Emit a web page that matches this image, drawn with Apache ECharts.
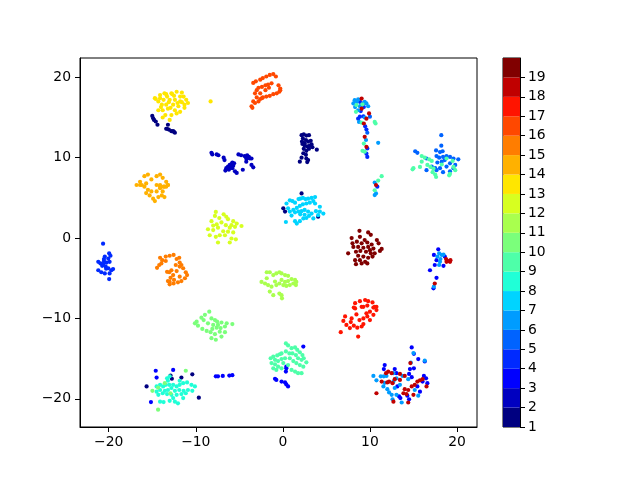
<!DOCTYPE html>
<html>
<head>
<meta charset="utf-8">
<script src="https://cdn.jsdelivr.net/npm/echarts@6/dist/echarts.min.js"></script>
<style>html,body{margin:0;padding:0;background:#fff}#c{width:640px;height:480px}</style>
</head>
<body>
<div id="c"></div>
<script>
// colour bands 1..19 (jet, 19 levels)
const bandColors = ['#000080','#0000C0','#0000FF','#002AFF','#0063FF','#009CFF','#00D4FF','#20FFD7','#4EFFA9','#7BFF7B','#A9FF4E','#D7FF20','#FFE600','#FFB100','#FF7D00','#FF4800','#FF1400','#C00000','#800000'];
const colorbarTicks = [1,2,3,4,5,6,7,8,9,10,11,12,13,14,15,16,17,18,19];
const xTicks = [-20,-10,0,10,20];
const yTicks = [-20,-10,0,10,20];

const pts1 = [[-15.0,15.2],[-14.9,14.9],[-14.8,14.7],[-14.6,14.5],[-14.4,14.1],[-13.2,14.1],[-13.4,13.6],[-13.1,13.5],[-12.8,13.3],[-12.5,13.2],[-12.4,13.1],[-13.3,13.6],[-12.6,13.3],
[2.15,12.8],[2.4,12.9],[2.7,12.75],[3.0,12.8],[2.3,12.4],[2.65,12.2],[2.9,12.0],[3.2,12.1],[2.25,11.7],[2.5,11.5],[2.8,11.4],[3.1,11.5],[3.4,11.3],[3.9,11.0],[2.4,11.1],[2.7,10.85],[3.0,11.1],[2.35,10.55],[2.65,10.35],[2.15,10.0],[1.95,9.5],[2.7,9.9],[2.8,9.45],[2.9,9.7],[2.5,11.8],[3.3,11.65],[2.2,12.0],
[2.15,5.55],[0.05,3.7],[0.25,3.3],[4.05,2.65],
[-15.65,-18.45],[-12.9,-17.1],[-12.75,-17.5],[-11.65,-17.35],[-10.4,-16.95],[-9.65,-19.85]];
const pts2 = [[-8.2,10.6],[-8.1,10.4],[-7.6,10.4],[-7.4,10.3],[-6.8,10.0],[-6.7,9.7],[-6.5,8.7],[-6.6,8.4],[-6.3,8.9],[-6.1,9.1],[-5.9,9.2],[-5.7,9.0],[-5.8,8.7],[-5.5,8.3],[-5.3,8.1],[-5.1,10.4],[-4.8,10.3],[-4.4,10.2],[-4.2,9.9],[-4.0,10.0],[-3.8,9.9],[-3.6,9.9],[-4.2,9.5],[-3.6,9.1],[-3.4,8.8],[-4.6,8.5],[-5.9,8.9],[-6.1,8.7],[-6.2,8.5],[-5.6,9.3],[-6.0,9.0],[-5.8,9.4],[-3.9,10.1],[-4.1,10.3]];
const pts3 = [[17.85,-1.4],[17.35,-2.1],[18.6,-2.3],[17.65,-2.75],[17.45,-3.35],[18.45,-3.45],[16.9,-4.0],[17.65,-4.95],[17.3,-6.25],
[-14.6,-16.5],[-14.5,-17.35],[-12.6,-16.4],[-15.15,-20.4],
[-7.7,-17.2],[-7.45,-17.2],[-6.9,-17.15],[-6.15,-17.1],[-5.8,-17.05],
[2.35,-13.5],[0.4,-16.0],[0.4,-16.2],[0.35,-16.6],[-0.9,-17.5],[-0.75,-17.65],[-0.15,-17.85],[0.25,-17.95],[0.4,-18.2],[0.6,-18.45],
[14.8,-13.6],[15.05,-14.4],[15.55,-15.05],[16.3,-15.35],[14.6,-16.3],[15.05,-16.2],[14.5,-16.9],[14.8,-17.3],[16.2,-17.15],[16.45,-17.45],[16.05,-17.85],[16.6,-18.05],[15.45,-18.45],[15.75,-19.1],[14.3,-19.6],[14.5,-20.05],[13.35,-19.7],[13.5,-19.9],[11.7,-15.8],[11.6,-16.3],[13.05,-16.8],[13.15,-18.45],[12.85,-16.3]];
const pts4 = [[-20.65,-0.7],[-19.95,-1.9],[-19.8,-2.2],[-20.45,-2.3],[-20.05,-2.55],[-20.55,-2.85],[-21.2,-2.95],[-20.95,-3.15],[-20.25,-3.05],[-19.9,-2.95],[-20.75,-3.45],[-20.35,-3.55],[-20.05,-3.75],[-19.7,-4.0],[-19.5,-3.85],[-21.2,-4.0],[-20.85,-4.25],[-20.45,-4.4],[-19.9,-4.4],[-19.95,-5.1],[-20.55,-2.6],[-20.6,-3.2],[-20.3,-3.8],
[8.85,16.95],[9.25,16.75],[9.3,16.3],[8.95,15.8],[8.85,15.1],[9.25,15.15],[8.65,14.85],[9.45,13.9],[9.6,13.5],[9.7,11.15],[9.6,10.5],[9.7,10.1],[10.85,6.4]];
const pts5 = [[18.2,12.8],[18.2,11.5],[17.6,10.9],[18.05,10.7],[18.35,10.8],[15.2,10.8],[15.45,10.6],[16.5,9.9],[17.65,10.2],[17.95,10.0],[18.4,10.1],[18.8,10.2],[19.2,10.1],[19.6,9.9],[20.15,9.8],[18.6,9.7],[18.25,9.5],[17.75,9.4],[19.2,9.3],[19.8,9.1],[18.8,8.9],[18.05,8.7],[17.5,8.7],[16.5,8.45],[19.2,8.3],[18.4,8.2],[17.65,8.45],[17.1,8.9],[19.6,8.7],
[10.0,15.1],[9.7,13.1]];
const pts6 = [[8.25,17.15],[8.65,17.25],[9.4,16.95],[9.6,16.75],[9.8,16.4],[8.85,16.4],[8.65,15.9],[8.1,16.75],[9.4,15.0],[8.75,14.45],[9.55,12.2],[10.95,11.85],[10.55,6.9],[10.7,5.55],[10.55,5.35],[8.5,16.95],[9.0,16.5],[8.3,16.3],
[17.95,-1.9],[18.25,-2.1],[18.45,-2.05],[18.1,-2.6],[17.95,-3.35],[18.05,-2.95],[17.75,-2.3],[17.35,-6.05],
[15.0,-14.3],[14.7,-15.5],[16.3,-15.25],[10.4,-17.15],[10.75,-17.7],[11.25,-17.2],[11.6,-17.2],[11.9,-17.15],[12.7,-16.8],[13.05,-17.45],[13.45,-18.25],[13.75,-17.15],[14.4,-17.55],[12.7,-17.85],[12.85,-18.65],[13.05,-19.5],[12.5,-19.5],[12.2,-19.2],[12.0,-18.8],[11.7,-18.0],[11.55,-18.45],[12.6,-20.05],[13.65,-20.45],[15.15,-18.9],[15.55,-19.6]];
const pts7 = [[0.42,4.3],[0.8,4.7],[1.1,4.6],[1.4,4.4],[1.8,4.85],[2.0,4.9],[2.3,5.0],[2.6,4.85],[2.9,4.9],[3.3,5.0],[3.7,5.1],[3.5,4.6],[3.1,4.4],[2.7,4.3],[2.3,4.2],[1.95,4.0],[1.6,3.75],[1.2,3.5],[0.8,3.3],[0.6,3.7],[1.4,3.2],[1.8,3.3],[2.15,3.35],[2.5,3.5],[2.9,3.3],[3.3,3.05],[3.8,3.35],[4.25,3.9],[4.65,3.05],[4.05,2.85],[3.5,2.45],[2.7,2.5],[2.35,2.45],[1.95,2.1],[1.6,1.8],[1.4,2.1],[0.35,2.0],[1.0,2.8],[3.0,2.75],[2.0,2.95],[3.7,4.3],[4.25,3.3],[2.5,2.9]];
const pts8 = [[-13.3,-17.45],[-13.0,-17.2],[-14.5,-18.45],[-14.1,-18.25],[-13.75,-18.45],[-13.45,-18.25],[-13.05,-18.25],[-12.6,-18.25],[-12.2,-18.45],[-11.85,-18.25],[-11.45,-18.05],[-11.0,-17.95],[-10.5,-18.25],[-10.1,-18.45],[-14.1,-18.9],[-13.55,-19.0],[-13.2,-18.9],[-12.8,-18.65],[-12.4,-19.0],[-11.9,-18.9],[-11.4,-19.0],[-10.9,-18.9],[-10.4,-19.0],[-14.3,-19.5],[-13.8,-19.3],[-13.3,-19.4],[-12.8,-19.5],[-12.2,-19.5],[-11.65,-19.4],[-11.15,-19.3],[-14.1,-20.35],[-13.7,-20.4],[-13.0,-20.25],[-12.4,-20.35],[-12.05,-20.55],[-11.45,-19.9],[-12.6,-19.9],[-14.5,-19.1],[-13.2,-17.75],[-11.85,-17.75]];
const pts9 = [[8.45,16.55],[8.4,15.7],[9.15,16.65],[9.05,14.35],[10.55,14.45],[10.65,14.25],[9.3,11.75],[9.15,10.85],[9.4,10.75],[11.35,7.7],[10.95,7.15],[10.55,5.95],
[15.95,10.2],[16.3,10.0],[16.8,9.8],[17.1,9.6],[15.95,9.5],[16.6,9.1],[16.95,8.85],[17.3,8.65],[15.0,8.7],[14.9,8.55],[15.75,8.85],[18.8,9.9],[19.5,9.6],[19.6,8.85],[19.8,8.45],[19.2,8.0],[19.1,7.8],[17.5,7.9],[17.6,7.6],[17.2,8.2],[18.25,9.15],
[0.35,-13.1],[0.6,-13.35],[1.0,-13.7],[1.4,-13.6],[1.65,-13.9],[1.95,-14.2],[2.25,-14.55],[2.4,-14.95],[2.15,-15.15],[1.75,-14.95],[1.5,-14.55],[1.1,-14.35],[0.75,-14.35],[0.35,-14.1],[-0.15,-14.35],[-0.35,-14.45],[-0.65,-14.6],[-1.1,-14.75],[-1.4,-14.95],[-0.9,-15.15],[-0.55,-15.3],[-0.15,-15.05],[0.25,-14.95],[0.8,-14.95],[1.2,-15.3],[1.55,-15.55],[1.95,-15.8],[2.35,-16.0],[2.7,-15.45],[-0.9,-15.7],[-0.55,-16.0],[-0.15,-16.2],[-0.75,-16.4],[-1.1,-16.2],[-1.3,-15.55],[1.0,-16.4],[1.4,-16.6],[1.75,-16.8],[2.15,-16.8],[0.6,-15.8],[0.05,-15.55]];
const pts10 = [[-8.45,-9.15],[-8.95,-9.55],[-9.35,-9.9],[-9.9,-10.4],[-9.75,-10.9],[-10.1,-10.6],[-9.25,-11.3],[-8.75,-11.55],[-8.2,-10.0],[-7.8,-10.2],[-7.55,-10.4],[-7.05,-10.5],[-6.45,-10.6],[-5.8,-10.7],[-6.65,-11.0],[-7.15,-11.2],[-7.6,-11.15],[-8.1,-11.3],[-8.3,-11.7],[-7.8,-11.95],[-7.25,-11.65],[-6.65,-11.7],[-7.05,-12.25],[-7.7,-12.65],[-8.6,-10.6],[-8.0,-10.8],[-9.1,-10.2],[-7.45,-10.8],[-8.2,-12.45],
[-11.15,-16.5],[-14.33,-18.6],[-14.98,-19.0],[-13.56,-18.05],[-12.91,-19.3],[-14.33,-21.35]];
const pts11 = [[-2.45,-5.45],[-2.05,-5.65],[-1.85,-4.25],[-1.5,-4.25],[-1.1,-4.6],[-0.75,-4.4],[-0.4,-4.25],[-1.7,-5.85],[-1.3,-6.05],[-0.75,-5.85],[-0.4,-5.65],[-1.5,-6.65],[-1.1,-7.1],[-0.4,-6.9],[-0.9,-5.4],[-1.85,-5.0],
[-0.15,-4.4],[0.25,-4.6],[0.6,-4.7],[-0.15,-5.2],[0.25,-5.45],[0.6,-5.35],[1.0,-5.1],[1.4,-5.2],[1.55,-5.45],[1.2,-5.65],[0.8,-5.85],[0.4,-5.95],[0.05,-5.85],[-0.15,-7.1],[-0.1,-7.5],[1.5,-5.85]];
const pts12 = [[-7.7,3.25],[-7.8,2.75],[-7.3,2.5],[-6.8,2.95],[-6.5,2.65],[-6.3,2.35],[-5.7,2.1],[-5.3,1.8],[-5.5,1.4],[-4.75,1.5],[-8.2,2.1],[-7.6,1.7],[-7.05,1.95],[-6.55,1.6],[-6.1,1.3],[-8.6,1.1],[-8.0,1.0],[-7.45,1.3],[-6.85,0.85],[-6.3,0.8],[-5.7,0.7],[-8.4,0.35],[-7.7,0.15],[-7.25,0.35],[-6.65,0.35],[-5.9,-0.05],[-5.4,-0.15],[-7.45,-0.55],[-6.1,-0.55],[-8.0,1.55],[-5.9,1.6]];
const pts13 = [[-14.7,17.4],[-14.1,17.8],[-13.6,18.0],[-13.3,17.6],[-12.8,18.0],[-12.2,18.2],[-11.6,18.1],[-11.4,17.6],[-11.1,17.2],[-10.9,16.8],[-11.8,17.0],[-12.4,17.2],[-13.0,17.2],[-13.7,17.2],[-14.3,17.0],[-13.9,16.6],[-13.4,16.6],[-12.6,16.6],[-12.0,16.4],[-11.3,16.2],[-11.3,16.6],[-14.3,15.9],[-13.8,15.9],[-13.2,16.1],[-12.4,15.9],[-11.8,15.7],[-13.5,15.3],[-12.8,15.3],[-12.2,15.5],[-13.0,14.7],[-13.8,15.0],[-14.6,17.3],[-11.8,17.6],[-12.5,17.7],[-13.1,16.9],[-14.1,17.4],[-12.1,16.8],[-12.7,17.9],[-13.4,17.9],[-11.6,16.9],[-12.9,16.2],[-14.0,16.3],[-8.3,17.0]];
const pts14 = [[-16.8,6.6],[-16.4,7.0],[-15.9,7.7],[-15.5,7.9],[-15.1,7.3],[-14.5,7.7],[-14.1,7.9],[-13.8,7.5],[-13.4,7.0],[-13.2,6.6],[-14.1,6.4],[-14.5,6.6],[-13.6,6.4],[-15.7,6.8],[-16.2,6.6],
[-16.4,6.6],[-15.9,6.4],[-15.5,6.0],[-15.7,5.6],[-15.3,5.3],[-14.9,4.9],[-14.7,4.6],[-14.3,5.1],[-13.9,5.3],[-13.6,5.1],[-13.8,5.8],[-14.1,6.2],[-13.4,6.4],[-13.2,6.6],[-15.1,5.8],[-14.5,5.8],[-14.1,6.6],[-13.7,6.4]];
const pts15 = [[-14.1,-2.45],[-13.85,-2.75],[-13.45,-2.3],[-13.0,-2.2],[-12.55,-2.1],[-12.2,-2.6],[-11.9,-2.45],[-11.85,-3.05],[-11.65,-3.35],[-11.45,-3.75],[-11.15,-4.25],[-11.0,-4.6],[-11.25,-5.0],[-11.65,-5.35],[-12.05,-5.5],[-12.55,-5.65],[-13.0,-5.75],[-13.2,-5.35],[-12.9,-4.95],[-12.6,-4.6],[-13.05,-4.25],[-13.3,-4.2],[-12.8,-4.0],[-12.2,-4.1],[-14.2,-3.35],[-14.45,-3.7],[-13.95,-3.15],[-11.85,-3.55],[-12.3,-3.35],[-13.45,-2.85],[-13.0,-5.45],[-11.85,-4.8],[-12.5,-5.2]];
const pts16 = [[-3.4,19.3],[-3.1,19.5],[-2.6,19.7],[-2.3,19.9],[-1.9,20.1],[-1.5,20.3],[-1.1,20.4],[-0.8,20.1],[-0.5,19.0],[-0.3,18.6],[-0.4,18.2],[-0.7,18.0],[-1.1,17.9],[-1.5,17.7],[-1.9,17.6],[-2.3,17.5],[-2.6,17.3],[-3.0,17.5],[-3.2,18.0],[-3.0,18.4],[-2.8,18.7],[-2.4,18.8],[-2.0,19.0],[-1.7,19.1],[-2.0,18.4],[-2.6,18.0],[-3.4,17.0],[-3.6,16.4],[-3.5,16.2],[-3.2,16.8],[-2.8,17.0],[-2.4,17.4],[-1.3,19.25],[-1.6,18.7],[-0.3,18.4]];
const pts17 = [[8.3,-8.1],[8.85,-7.85],[9.45,-7.7],[9.8,-7.85],[10.3,-8.0],[10.75,-8.55],[8.3,-8.75],[9.05,-8.55],[9.7,-8.4],[10.4,-8.65],
[8.15,-8.65],[9.25,-8.55],[10.55,-8.55],[10.75,-8.95],[10.0,-9.15],[10.4,-9.55],[9.7,-9.75],[10.0,-10.2],[9.25,-10.0],[8.8,-10.2],[8.45,-9.5],[7.9,-10.0],[7.15,-9.75],[6.95,-10.3],[7.3,-10.8],[7.7,-11.2],[8.15,-10.9],[8.55,-11.15],[9.05,-11.0],[9.25,-10.7],[7.8,-10.45],[6.65,-11.7],[8.65,-12.25],[9.6,-9.35]];
const pts18 = [[9.05,17.35],[9.05,16.1],[9.6,14.85],[9.9,15.5],[9.3,14.25],[9.4,12.6],[9.6,11.35],[10.7,6.6],
[18.8,-2.95],[19.0,-2.85],[19.2,-2.95],[18.75,-2.6],[19.25,-2.75],[17.45,-5.65],
[14.65,-15.55],[11.35,-17.85],[11.85,-16.8],[12.1,-16.6],[12.5,-16.8],[12.85,-17.55],[12.6,-18.05],[12.2,-17.85],[12.0,-17.95],[13.45,-16.9],[14.0,-17.15],[14.0,-18.8],[14.4,-18.9],[14.8,-18.45],[15.15,-18.25],[15.45,-17.85],[15.75,-17.7],[16.05,-17.55],[16.5,-18.45],[14.2,-19.4],[15.0,-19.5],[12.7,-20.35],[10.75,-19.3],[14.4,-20.45],[13.45,-17.65],[13.85,-19.3]];
const pts19 = [[8.8,0.9],[9.8,0.7],[10.1,0.4],[7.9,0.0],[8.85,0.15],[9.4,-0.25],[8.5,-0.45],[9.05,-0.65],[9.7,-0.55],[10.2,-0.8],[10.8,-0.25],[11.0,-0.65],[8.1,-1.1],[8.65,-1.1],[9.25,-1.2],[9.8,-1.1],[10.4,-1.3],[11.35,-1.35],[11.15,-1.6],[7.5,-1.9],[8.4,-1.7],[8.9,-1.6],[9.55,-1.7],[10.1,-1.9],[10.55,-1.9],[8.65,-2.2],[9.25,-2.3],[9.8,-2.45],[10.3,-2.3],[8.3,-2.75],[8.85,-2.75],[9.45,-2.95],[9.7,-3.15],[8.4,-3.25],[9.05,-3.15],[8.0,-0.65],[10.0,-1.5]];

const bands = [pts1,pts2,pts3,pts4,pts5,pts6,pts7,pts8,pts9,pts10,pts11,pts12,pts13,pts14,pts15,pts16,pts17,pts18,pts19];

const FONT = 'DejaVu Sans';
const fmt = v => String(v).replace('-', '\u2212');

const series = [];
bands.forEach((pts, i) => {
  series.push({
    type: 'scatter', xAxisIndex: 0, yAxisIndex: 0,
    data: pts, symbol: 'circle', symbolSize: 4.2,
    itemStyle: { color: bandColors[i], opacity: 1 },
    silent: true, animation: false
  });
});
bandColors.forEach((c, i) => {
  series.push({
    type: 'bar', xAxisIndex: 1, yAxisIndex: 1, stack: 'cb',
    data: [1], barWidth: '100%', itemStyle: { color: c }, silent: true, animation: false
  });
});

const chart = echarts.init(document.getElementById('c'), null, { renderer: 'canvas' });
chart.setOption({
  backgroundColor: '#ffffff',
  animation: false,
  grid: [
    { left: 80, top: 58, width: 397, height: 369, show: true, borderColor: '#000', borderWidth: 1, backgroundColor: 'transparent' },
    { left: 503, top: 58, width: 17, height: 369, show: true, borderColor: '#000', borderWidth: 1, backgroundColor: 'transparent' }
  ],
  xAxis: [
    { type: 'value', gridIndex: 0, min: -23.3, max: 22.3, splitLine: { show: false },
      axisLine: { show: true, onZero: false, lineStyle: { color: '#000', width: 1 } },
      axisTick: { show: true, length: 5, lineStyle: { color: '#000' }, customValues: xTicks },
      axisLabel: { color: '#000', fontSize: 13.9, fontFamily: FONT, margin: 8, formatter: fmt, customValues: xTicks } },
    { type: 'category', gridIndex: 1, data: ['cb'], show: false, boundaryGap: true }
  ],
  yAxis: [
    { type: 'value', gridIndex: 0, min: -23.5, max: 22.4, splitLine: { show: false },
      axisLine: { show: true, onZero: false, lineStyle: { color: '#000', width: 1 } },
      axisTick: { show: true, length: 5, lineStyle: { color: '#000' }, customValues: yTicks },
      axisLabel: { color: '#000', fontSize: 13.9, fontFamily: FONT, margin: 9, formatter: fmt, customValues: yTicks } },
    { type: 'value', gridIndex: 1, position: 'right', min: 0, max: 19, interval: 1, splitLine: { show: false },
      axisLine: { show: true, lineStyle: { color: '#000', width: 1 } },
      axisTick: { show: true, length: 5, lineStyle: { color: '#000' } },
      axisLabel: { color: '#000', fontSize: 13.9, fontFamily: FONT, margin: 8, showMaxLabel: false,
        formatter: v => (v < colorbarTicks.length ? String(colorbarTicks[v]) : '') } }
  ],
  series: series
});
</script>
</body>
</html>
